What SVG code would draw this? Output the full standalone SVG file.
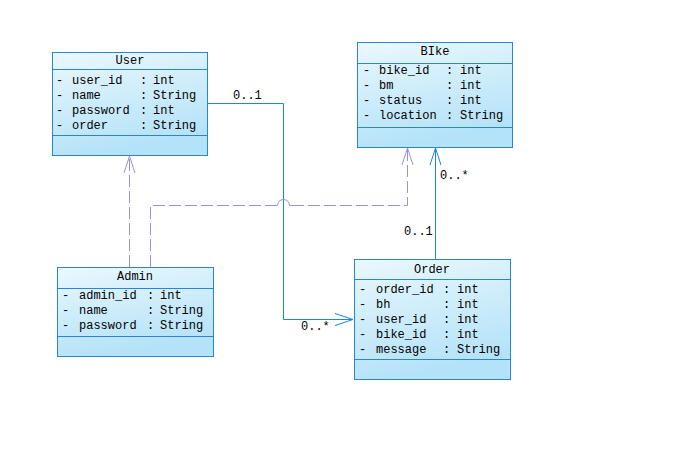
<svg xmlns="http://www.w3.org/2000/svg" width="679" height="452" viewBox="0 0 679 452">
<defs>
<linearGradient id="g" x1="0" y1="0" x2="0.3" y2="1">
<stop offset="0" stop-color="#eaf8fe"/>
<stop offset="1" stop-color="#b4e2f8"/>
</linearGradient>
<style>
.box{fill:url(#g);stroke:#2a86d4;stroke-width:1}
.div{stroke:#2a86d4;stroke-width:1}
text{font-family:"Liberation Mono","DejaVu Sans Mono",monospace;font-size:12px;fill:#000}
.t{text-anchor:middle}
.solid{fill:none;stroke:#1f84dc;stroke-width:1}
.dash{fill:none;stroke:#9b8fe0;stroke-width:1;stroke-dasharray:12,4}
.arrS{fill:none;stroke:#1f84dc;stroke-width:1}
.arrD{fill:none;stroke:#9b8fe0;stroke-width:1}
</style>
</defs>
<rect width="679" height="452" fill="#fff"/>

<g id="connectors">
<!-- User -> Order -->
<path class="solid" d="M207.5,103.5 H283.5 V319.5 H353"/>
<path class="arrS" d="M335,313.5 L353,319.5 L335,325.5"/>
<text x="233" y="99">0..1</text>
<text x="301" y="330">0..*</text>
<!-- Order -> BIke -->
<path class="solid" d="M435.5,259 V148"/>
<path class="arrS" d="M430,165 L435.5,148 L441,165"/>
<text x="440" y="179">0..*</text>
<text x="404" y="235">0..1</text>
<!-- Admin -> User -->
<path class="dash" d="M129.5,267 V156"/>
<path class="arrD" d="M124,173 L129.5,156 L135,173"/>
<!-- Admin -> BIke -->
<path class="dash" d="M150.5,267 V205.5 H277.5"/>
<path class="arrD" d="M276,205.5 H277.5 A6,6 0 0 1 289.5,205.5 H292"/>
<path class="dash" d="M292,205.5 H407.5 V148"/>
<path class="arrD" d="M402,165 L407.5,148 L413,165"/>
</g>

<g id="User">
<rect class="box" x="52.5" y="52.5" width="155" height="103"/>
<line class="div" x1="52.5" y1="69.5" x2="207.5" y2="69.5"/>
<line class="div" x1="52.5" y1="135.5" x2="207.5" y2="135.5"/>
<text class="t" x="130" y="64">User</text>
<text x="56" y="84">-</text><text x="72" y="84">user_id</text><text x="140" y="84">:</text><text x="153" y="84">int</text>
<text x="56" y="99">-</text><text x="72" y="99">name</text><text x="140" y="99">:</text><text x="153" y="99">String</text>
<text x="56" y="114">-</text><text x="72" y="114">password</text><text x="140" y="114">:</text><text x="153" y="114">int</text>
<text x="56" y="129">-</text><text x="72" y="129">order</text><text x="140" y="129">:</text><text x="153" y="129">String</text>
</g>

<g id="BIke">
<rect class="box" x="357.5" y="42.5" width="155" height="105"/>
<line class="div" x1="357.5" y1="63.5" x2="512.5" y2="63.5"/>
<line class="div" x1="357.5" y1="127.5" x2="512.5" y2="127.5"/>
<text class="t" x="435" y="55">BIke</text>
<text x="363" y="74">-</text><text x="379" y="74">bike_id</text><text x="446" y="74">:</text><text x="460" y="74">int</text>
<text x="363" y="89">-</text><text x="379" y="89">bm</text><text x="446" y="89">:</text><text x="460" y="89">int</text>
<text x="363" y="104">-</text><text x="379" y="104">status</text><text x="446" y="104">:</text><text x="460" y="104">int</text>
<text x="363" y="119">-</text><text x="379" y="119">location</text><text x="446" y="119">:</text><text x="460" y="119">String</text>
</g>

<g id="Admin">
<rect class="box" x="57.5" y="267.5" width="156" height="89"/>
<line class="div" x1="57.5" y1="288.5" x2="213.5" y2="288.5"/>
<line class="div" x1="57.5" y1="336.5" x2="213.5" y2="336.5"/>
<text class="t" x="135" y="280">Admin</text>
<text x="62" y="299">-</text><text x="79" y="299">admin_id</text><text x="147" y="299">:</text><text x="160" y="299">int</text>
<text x="62" y="314">-</text><text x="79" y="314">name</text><text x="147" y="314">:</text><text x="160" y="314">String</text>
<text x="62" y="329">-</text><text x="79" y="329">password</text><text x="147" y="329">:</text><text x="160" y="329">String</text>
</g>

<g id="Order">
<rect class="box" x="354.5" y="259.5" width="156" height="120"/>
<line class="div" x1="354.5" y1="279.5" x2="510.5" y2="279.5"/>
<line class="div" x1="354.5" y1="359.5" x2="510.5" y2="359.5"/>
<text class="t" x="432" y="273">Order</text>
<text x="359" y="293">-</text><text x="376" y="293">order_id</text><text x="443" y="293">:</text><text x="457" y="293">int</text>
<text x="359" y="308">-</text><text x="376" y="308">bh</text><text x="443" y="308">:</text><text x="457" y="308">int</text>
<text x="359" y="323">-</text><text x="376" y="323">user_id</text><text x="443" y="323">:</text><text x="457" y="323">int</text>
<text x="359" y="338">-</text><text x="376" y="338">bike_id</text><text x="443" y="338">:</text><text x="457" y="338">int</text>
<text x="359" y="353">-</text><text x="376" y="353">message</text><text x="443" y="353">:</text><text x="457" y="353">String</text>
</g>
</svg>
